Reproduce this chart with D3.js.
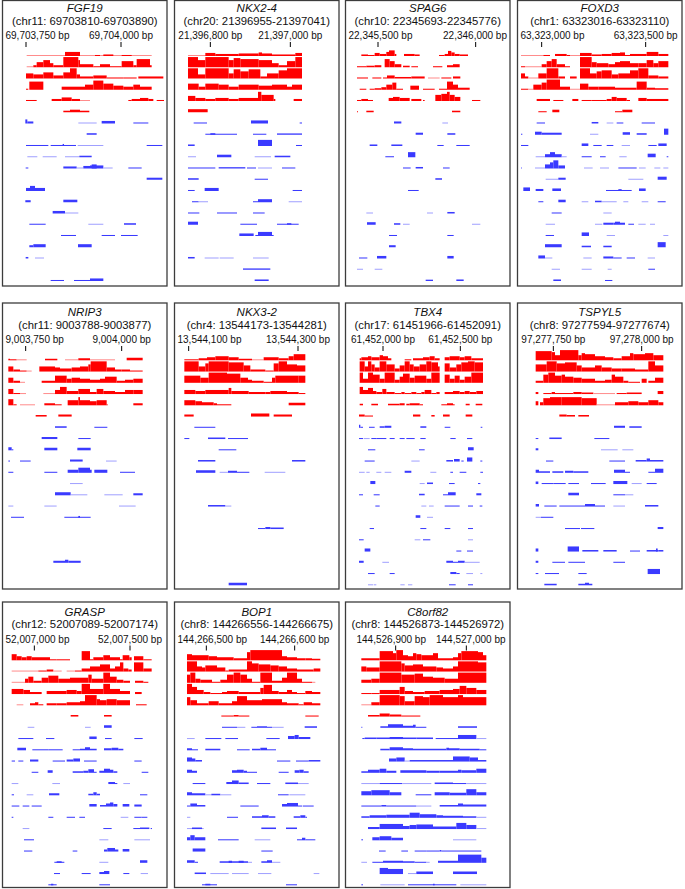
<!DOCTYPE html>
<html>
<head>
<meta charset="utf-8">
<script src="https://cdn.jsdelivr.net/npm/d3@7"></script>
<style>
  body { margin: 0; background: #fff; }
  text { font-family: "Liberation Sans", Arial, sans-serif; fill: #111; }
</style>
</head>
<body>
<div id="chart"></div>
<script>
// panel titles and axis ticks
var genes = ["FGF19", "NKX2-4", "SPAG6", "FOXD3", "NRIP3", "NKX3-2", "TBX4", "TSPYL5", "GRASP", "BOP1", "C8orf82"];
var regions = ["(chr11: 69703810-69703890)", "(chr20: 21396955-21397041)", "(chr10: 22345693-22345776)",
  "(chr1: 63323016-63323110)", "(chr11: 9003788-9003877)", "(chr4: 13544173-13544281)",
  "(chr17: 61451966-61452091)", "(chr8: 97277594-97277674)", "(chr12: 52007089-52007174)",
  "(chr8: 144266556-144266675)", "(chr8: 144526873-144526972)"];
var tickLabels = [["69,703,750 bp", "69,704,000 bp"], ["21,396,800 bp", "21,397,000 bp"], ["22,345,500 bp", "22,346,000 bp"],
  ["63,323,000 bp", "63,323,500 bp"], ["9,003,750 bp", "9,004,000 bp"], ["13,544,100 bp", "13,544,300 bp"],
  ["61,452,000 bp", "61,452,500 bp"], ["97,277,750 bp", "97,278,000 bp"], ["52,007,000 bp", "52,007,500 bp"],
  ["144,266,500 bp", "144,266,600 bp"], ["144,526,900 bp", "144,527,000 bp"]];
// tick positions in track units (0-51 across a panel)
var tickPos = [[7.8, 36.3], [11.5, 35.5], [10.5, 39.8], [8.0, 39.2], [7.7, 36.5], [5.0, 37.8],
  [12.0, 35.2], [11.5, 38.0], [10.3, 39.0], [10.3, 36.8], [15.8, 37.0]];

// tracks: 6 red then 15 blue, each a list of [start, end, signal]
// signal <= 0.5 means a faint 1px coverage line
var fgf19 = [
  [[8,45.5,0.5],[19.5,24,4],[28.5,30,1],[31,34,1.5],[36.5,39.5,1]],
  [[8,10,0.5],[10,11,2],[11,13,5],[13,15,7],[15,16,4],[16,19,2],[19,23.5,10],[23.5,24,7],[24,28,3],[28,30,1],[30,33,3],[33,36.5,1],[36.5,40,6],[40,41,2],[41,45,8],[45,45.5,2]],
  [[7.8,10,5],[10,13,4],[13,16,6],[16,19,3],[19,21,6],[21,23,10],[23,24,4],[24,28,2],[28,32,3],[32,37,1],[37,41,1],[41.5,49,2]],
  [[7.8,8.5,1],[8.8,13,8],[18.5,25.5,3],[25.5,28,5],[28,31,9],[31,34,6],[34,37,4],[37,40,3],[40,42,5],[42,45.5,3]],
  [[7.8,11,1],[15.5,18.5,2],[18.5,21.5,3.5],[21.5,24,2],[24,27,0.5],[38.5,39.5,1],[39.5,42,2],[42,44.5,3],[44.5,46,2],[47,49.2,1]],
  [[19,21,1.5],[21,24,2.5],[24,26.8,1.5]],
  [[7.6,8.2,4],[8.2,10,2],[23.5,29,0.5],[30.5,34.5,2.5],[40,44.5,1]],
  [[26,29,1.5]],
  [[7.8,14.5,1],[15.2,22.8,1],[18.8,19.2,2],[23.3,31,0.5],[44,48.7,1]],
  [[8.2,11.2,0.5],[12.8,17,0.5],[19.5,23.8,0.5],[23.8,27.5,1.5]],
  [[7.7,8.5,1],[19,23,2],[23,25,0.5],[25,27,2.5],[27,31,3],[27.5,29,4],[31,33.8,0.5],[38.5,42.5,1]],
  [[44,48.7,2]],
  [[7.8,9,3],[9,10.5,5],[10.5,13.5,3]],
  [[7.6,9.2,2],[19,23.2,2.5]],
  [[15.8,19.5,2.5],[19.5,23.5,0.5]],
  [[8.8,13.7,1],[26.5,31,0.5],[37.2,40.8,1.5]],
  [[18.3,22.8,1],[30.5,34.5,1],[36.3,41.3,1]],
  [[8.8,10,2],[10,13.7,3],[23.4,27.5,3]],
  [[7.7,8.5,1.5],[10.5,13.2,0.5]],
  [],
  [[15.2,19.2,1],[22.2,27,1],[27,31,2.5]]
];
var nkx24 = [
  [[4.8,39,0.5],[10,13,3],[13,20,2],[20,26,2.5],[26,27,3.5],[27,30,2.5],[30,37,1.5],[37,39,3]],
  [[4.8,7.8,10],[7.8,10,7],[10,17,10],[17,18.5,7],[18.5,20.5,9],[20.5,26,8],[26,30,7],[30,32,4],[32,34.5,2],[34.5,37,6],[37,39,10]],
  [[4.8,7.8,10],[7.8,10,4],[10,17,10],[17,18.5,5],[18.5,20.5,9],[20.5,23,7],[23,26.5,9],[26.5,28.5,2],[28.5,32,5],[32,34.5,8],[34.5,39,10]],
  [[4.8,8,6],[8,10,3],[10,14,6],[14,17,5],[17,20,3],[20,26,5],[26,30,4],[30,34.5,5],[34.5,36,3],[36,39,5]],
  [[4.8,7,5],[7,10,3],[10,13,2],[13,17,3],[17,20,2],[20,25.8,3],[25.8,26.8,9],[26.8,30.5,6],[30.5,31,2],[36.5,39,2]],
  [[4.8,10.7,3]],
  [[6.5,10.5,1],[23.7,28.8,3],[38.3,39,1]],
  [[10,19.5,1],[11.5,13,1.5],[24.3,28.3,1],[31.5,39,1.3]],
  [[4.8,6.8,1.5],[25.8,30,6],[37.2,39,1]],
  [[4.8,7.2,0.5],[13.5,17.8,2.5],[24.8,29.7,0.5],[30.8,35.5,1.5]],
  [[4.8,13,1],[14,22,1.3],[22.5,25.2,1],[25.8,30,0.5],[33,37,1]],
  [[4.8,8,1.5],[24.8,28.8,1]],
  [[4.8,6.8,1],[9.8,14,3],[36.2,39,1]],
  [[6,8,1],[8,10.8,0.5],[24.3,25.8,1],[25.8,30,3],[35,39,0.5]],
  [[4.8,8.2,1],[13.5,19.5,1],[24.3,27.8,1]],
  [[4.8,7.8,3],[20.5,25.5,1],[31.5,38,1],[34.5,35.8,1.5]],
  [[20.2,24.5,2.5],[25,25.8,1],[25.8,30,4],[30,30.5,1]],
  [],
  [[4.8,6.8,1.5],[9.8,14,0.5],[14.3,18.5,0.5],[24.3,29,0.5]],
  [[21.3,29.5,1.3]],
  [[24.8,29,1.5]]
];
var spag6 = [
  [[5.5,7.5,1.5],[7.5,9.5,1],[9.5,11,3],[11,13,2],[13,13.8,4],[13.8,15.5,5.5],[15.5,16,2],[18.3,21.5,2],[21.5,23,1.5],[28.8,30.5,1],[30.5,31.5,2],[31.5,32.5,5],[32.5,33.5,3.5],[33.5,35,2],[35,37.5,1.5]],
  [[4.2,7,1],[7,9.5,1.5],[9.5,11.5,2],[12.5,14,8],[14,15.5,6],[15.5,17.5,3],[18,20,1.5],[20.5,22.5,1],[27,29.8,1],[31.2,33,2],[33,35,3]],
  [[4.2,7.5,1],[8.8,11.5,1],[12,13.2,1],[13.2,15.5,3],[15.5,20.5,1.5],[20.5,24.5,2],[25.5,29,0.5],[29.5,32.5,1],[33,35.2,2]],
  [[5,7,1],[8,9.5,1],[9.5,11.5,1.5],[11.5,13,2.5],[13,14.8,5],[14.8,16,7],[16,18,1],[20.2,22.8,4],[24,27.5,1],[28.8,31.2,1],[31.2,33,8],[33,34.5,5],[34.5,38,2]],
  [[4.2,5.5,1],[5.5,7.5,2],[7.5,9,1],[13.7,15,3],[15,17,4],[17,20,3],[20.5,23.5,2],[24,24.5,1],[27.7,29.5,6],[29.5,31.2,7],[31.2,32,9],[32,33.5,6],[33.5,35.2,4],[38.7,41.2,1]],
  [[4.2,4.5,1],[7,9.2,1.5],[32.7,35.2,1.5]],
  [[15.3,17.5,2],[29.8,31.5,0.5]],
  [[21.8,24,2],[31.3,33.7,1.5]],
  [[8,10.3,1.5],[14.5,17.8,1.5],[28.3,30.2,1],[34,38,1]],
  [[12.7,15.3,1],[19.5,21.7,5]],
  [[18,20.3,1],[21.8,24,1.5],[30,32,1]],
  [[27.7,29.7,1.5]],
  [[19.5,22.7,1]],
  [],
  [[7,9,0.5],[25.2,27,0.5],[31.3,33.5,1.5]],
  [[7.2,9.8,2.5],[15.3,17.2,1.5],[18,20,0.5],[38.7,41.2,0.5]],
  [[13.8,16.2,1],[31.3,33.2,1]],
  [[13.8,15.8,2]],
  [[4.8,7.3,1],[10.2,13,2.5],[31.3,33.2,2.5]],
  [[4.2,6,0.5],[9.5,11.8,0.5]],
  [[24.8,27,1.3],[34,36.2,1.5]]
];
var foxd3 = [
  [[1.8,8.5,0.5],[8.5,10.5,1],[12,15.5,2],[15.5,16.5,1],[16.5,19.5,0.5],[19.5,23,3],[23,26,1.5],[26,29,2],[29,31.5,3],[31.5,33,3.5],[33,34.5,1],[34.5,39.5,2],[39.5,43,4],[43,46,2]],
  [[1.8,3,1],[3,8,0.5],[8,9.5,3],[9.5,11,6],[11,12.5,8],[12.5,15,3],[15,16.5,1],[19.5,23,10],[23,24.5,5],[24.5,28,4],[28,30,3],[30,31.5,5],[31.5,34.5,6],[34.5,37,4],[37,39.5,4],[39.5,41.5,7],[41.5,43,4],[43,46,6]],
  [[1.8,3,5],[3,4,2],[4,7,0.5],[7,9.5,5],[9.5,13,10],[13,15,2],[16.5,18.5,2],[19.5,22.5,10],[22.5,24.5,5],[24.5,26,7],[26,29,8],[29,31,4],[31,34.5,5],[34.5,37,8],[37,40,10],[40,43,3],[43,46,2]],
  [[1.8,4,1],[4,5.5,0.5],[5.5,8,5],[8,9.5,7],[9.5,13.5,10],[13.5,16.5,3],[16.5,19.5,0.5],[19.5,22,6],[22,25,3],[25,30,3],[30,33,2],[33,36.5,2],[36.5,39.5,8],[39.5,42,2],[42,46,1.5]],
  [[6.5,10.5,2],[11.5,14.5,1],[17.2,19,2],[20,23,1],[23,27.5,1],[27.5,29,2],[29,30.5,4],[30.5,33.5,3],[33.5,34.5,1],[37,39.5,3],[39.5,46,2]],
  [[7,9.5,1],[11.2,13.3,2.5],[30,32.2,1],[32.2,35.2,2.5]],
  [[6.5,9,1],[23,25,1.5],[27.5,29.5,0.5],[30.5,32.5,1],[38,42,1]],
  [[1.8,2.2,1],[6,8,3],[8,14,2],[22.5,25,0.5],[32.3,34.5,2.5],[36.5,39.5,1.5],[44.7,46,6]],
  [[1.8,4,1],[20,22,2.5],[23.5,26,1],[27.5,29.5,1],[32,34.5,0.5],[40,42.5,1],[43,45.5,2.5]],
  [[6.2,9,0.5],[9,10.5,3],[10.5,12,5],[12,14,3],[14,15.5,0.5],[20,23,1],[25.5,27.2,1],[31.3,33.5,0.5],[39.8,42.2,3.5],[45.5,46,1]],
  [[1.8,2,1],[6,9,0.5],[9,10.5,4],[10.5,11.5,6],[11.5,13,8],[13,15,3],[20.7,23.3,0.5],[25.5,28.2,0.5],[31,36.5,1],[37.2,39.2,0.5],[41.8,43.6,0.5],[44.5,46,0.5]],
  [[9.2,13,0.5],[13,15.2,2],[34,38.5,0.5],[42.8,45.5,3]],
  [[2.5,4.5,3.5],[6.2,8.5,2],[11.2,13.8,2.5],[27.3,35,1],[31,32,1.8],[37.2,39.2,2.5]],
  [[7,8.5,1],[13,15.2,2.5],[20,22,0.5],[24,26,1.5],[26,30.5,0.5],[32.5,34,0.5],[38,40,0.5],[42.8,45.2,1]],
  [[11,14,1],[26.5,29,0.5]],
  [[9.2,12,0.5],[24,26.2,0.5],[26.5,29.5,2],[29.5,30,2],[30,31.5,3],[31.5,33,2],[34,35.7,1],[37,39.2,0.5],[40.5,42,0.5]],
  [[9.2,11.7,1],[20,22.2,3.5],[27.5,30,0.5],[44.5,46,0.5]],
  [[9,14,3],[20,22.8,1.5],[26.5,29,1.5],[42.8,45.2,5]],
  [[7,9,3],[9,11.2,0.5],[20.5,23,0.5],[26.5,29.5,2],[29.5,32,1],[33.5,36,1],[39.8,42,0.5]],
  [[11,13.5,0.5],[20,23,0.5],[27.8,29,0.5],[40,42,1]],
  [[11.5,13.8,1.5],[27,29.2,1]]
];
var nrip3 = [
  [[2.5,3,1.5],[3,5,1],[5,8,0.5],[13.5,17.2,1.5],[19.5,23.5,0.5],[23.5,27,2],[27,34.5,0.5],[38,42.8,2.5]],
  [[2.5,4,5],[4,6,2],[6,8,1],[8,9.5,0.5],[11.8,16.5,5],[16.5,18,4],[18,21.5,3],[21.5,24,4],[24,26.5,5],[26.5,27.2,7],[27.2,32,10],[32,34.5,4],[34.5,36.5,2],[36.5,39,2],[39,42.8,1]],
  [[2.5,4,5],[4,6,2],[6,7.5,0.5],[12.5,16.5,2],[16.5,20,7],[20,21.5,4],[21.5,24,5],[24,27,4],[27,30,3],[30,31.5,4],[31.5,35,6],[35,37.5,2],[37.5,40,3],[40,42.8,4]],
  [[2.5,4,5],[4,6,1],[6,7.8,0.5],[13,16.5,0.5],[16.5,18,4],[18,20,7],[20,23.5,3],[23.5,27,5],[27,29,2],[29,31,5],[31,34.5,3],[34.5,37.5,2],[37.5,40,4],[40,42.8,4]],
  [[2.5,4,6],[4,5,1],[6,10.5,0.5],[13.3,16.5,2],[16.5,18.5,1],[20.3,23.5,5],[23.5,24,8],[24,27,5],[27,29,4],[29,32,5],[32,32.3,1],[40,42.8,2]],
  [[10.7,14,1.5],[17.5,21.5,2]],
  [[16.5,20,1.5],[28.3,32.2,1]],
  [[12.5,17.2,2],[23.5,27.2,1]],
  [[2.5,3.5,3],[3.5,4,1],[13.3,17.2,2.5],[23.2,27.2,2.5]],
  [[2.5,3,1],[6,9.2,1],[21,24.8,2],[31.8,35,0.5]],
  [[2.5,4,1],[13.3,17.2,1],[20.3,23.5,3],[23.5,27,5],[27,27.5,3],[28.3,32.2,3],[36,40.5,1]],
  [[21,24.8,0.5]],
  [[16.5,21.2,3],[21.2,26.2,0.5],[31.3,36.8,0.5],[40,42.8,2]],
  [[2.5,4,0.5],[13.3,17,0.5],[35.7,40.7,0.5]],
  [[3.3,7.2,1],[19.3,27.2,1],[23.5,24,1.8]],
  [],
  [],
  [],
  [[16,19.5,2],[19.5,20.5,3],[20.5,24.2,2]],
  [],
  []
];
var nkx32 = [
  [[3.7,8,1],[8,10.5,2],[10.5,13,3],[13,17,4],[17,20,3],[20,24,1.5],[24,27.5,0.5],[27.5,32,3],[32,35,2],[35,36.5,4],[36.5,40,6]],
  [[3.7,8,10],[8,10,5],[10,11,8],[11,17,10],[17,21.5,9],[21.5,23.5,6],[23.5,28,2],[28,30.5,1],[30.5,32,8],[32,34.5,10],[34.5,37.5,7],[37.5,40,6]],
  [[3.7,8.5,7],[8.5,11,5],[11,16.5,10],[16.5,20.5,9],[20.5,22.8,5],[22.8,24,3],[24,27.5,2],[27.5,30,1],[30,31,5],[31,38,7],[38,40,7]],
  [[3.7,7,4],[7,10,3],[10,17,4],[17,17.8,6],[17.8,23,3],[23,28,2],[28,29.5,2],[29.5,34.5,3],[34.5,38,2],[38,40,1]],
  [[3.7,7,5],[7,9,4],[9,12.5,3],[12.5,13.5,2],[13.5,17.8,1],[35,40,2.5]],
  [[3.7,6.5,2],[23.7,29.2,3],[30.5,36,2]],
  [[6.7,13,1]],
  [[3.7,5.2,1],[10.8,16,1.5],[16.8,22.8,1]],
  [[14,19.3,1]],
  [[7.8,13,1.5],[36,40,1.5]],
  [[7.2,13,2.5],[14.3,16.8,0.5],[16.8,19.5,2],[19.5,23.2,1],[27.8,34,0.5]],
  [],
  [],
  [[10.8,16,1.5],[16,17.8,0.5]],
  [],
  [[25.8,28,1],[28,29.5,2],[29.5,33.5,1.5]],
  [],
  [],
  [],
  [],
  [[17,22.5,2.5]]
];
var tbx4 = [
  [[5,5.5,2],[5.5,7.5,3],[7.5,8.5,4],[8.5,11,3],[11,12,5],[12,13.5,4],[13.5,14.5,2],[18.5,20.5,1],[21,24,2],[24,26,3],[26,27.5,4],[27.5,29,2],[30.5,32,3],[32,35,4],[35,36.5,3],[36.5,38.5,4],[38.5,42,2]],
  [[5,6.5,10],[6.5,7.5,5],[7.5,8.5,10],[8.5,9.5,7],[9.5,11,4],[11,13,10],[13,15.5,7],[15.5,17,3],[17,18.5,6],[18.5,20,10],[20,21.2,7],[21.2,23,5],[23,25,7],[25,26.5,10],[26.5,28.5,9],[28.5,29,5],[30.5,32,8],[32,34,4],[34,35.5,7],[35.5,37.5,9],[37.5,39.5,10],[39.5,42,9]],
  [[5,6,10],[6,7.5,4],[7.5,9,10],[9,11,8],[11,12.5,4],[12.5,15.5,10],[15.5,17,3],[17,18,6],[18,20,9],[20,21.5,5],[21.5,25,7],[25,26.5,4],[26.5,29,10],[30.5,32,8],[32,33.5,4],[33.5,35,7],[35,36.5,3],[36.5,38.5,6],[38.5,42,10]],
  [[5,6,7],[6,7.5,4],[7.5,9,6],[9,10,3],[10,11.8,2],[11.8,13,5],[13,15.5,2],[15.5,17.5,1],[17.5,18.5,2],[18.5,20.5,1],[20.5,22,2],[22,23.5,1],[23.5,24.5,2],[24.5,26.5,4],[26.5,28,1],[28,29,2],[30.5,33,2],[33,35,3],[35,36.5,2],[36.5,38,3],[38,40,2],[40,42,3]],
  [[5,6,1.5],[8.5,10.5,1.5],[13.5,17,1.5],[17,18.5,2],[19,20,1.5],[20,23,2],[23,24,1],[29.5,31.2,1],[31.2,33,2],[33,33.5,1],[36.8,38,1.5],[39.8,41.8,1.5]],
  [[4.8,6.5,2],[6.5,9,1],[21,23.2,2],[26.5,27.5,1.5],[30,32,2],[36.8,38.8,2]],
  [[4.8,5.2,3],[5.2,6,1],[7.8,9.5,1],[11,12.5,1.5],[12.5,14.5,2],[23.2,25,1.5],[30.5,32.2,1],[41.3,41.8,1]],
  [[4.8,6,1],[6.2,8,0.5],[8.5,10,1],[10,13,1],[14,15.5,1],[17,18.5,1],[19,21.5,1],[23.2,24.8,1],[32.2,33.8,1],[37.2,38.8,1]],
  [[7.5,9.7,1],[22.8,24.5,1],[37.5,39.2,3]],
  [[6.5,9.5,1],[20.5,23,0.5],[31,33,1.5],[33.3,35,2.5],[35.5,36.2,1],[37.2,38.8,4],[41.2,41.8,1]],
  [[4.8,6.5,0.5],[7,8,0.5],[10,11.5,0.5],[12.5,14.5,0.5],[18.5,20.5,2],[26.2,28,0.5],[32.2,33,1],[35,37,1],[41.2,42,1]],
  [[8.2,9.7,3],[23,24.5,0.5],[25.2,27,1.5],[31.8,33.5,1],[40.5,41.2,1]],
  [[4.8,6,1],[9.2,11,1],[22.8,24.5,1.5],[30,31.5,1],[31.5,33.8,3],[40,41.5,2]],
  [[9.7,11,1],[23.5,25,0.5],[25.8,27.2,0.5],[30.5,35,1],[37.5,39,1],[41,41.8,1]],
  [[21.8,23.2,2.5],[25.2,27,0.5]],
  [[8,9.3,1],[23.2,25,1],[30.5,32.2,1],[37.5,39,1]],
  [[4.8,6.2,1],[21.5,23.2,0.5],[24,26.2,1],[37.5,39,0.5]],
  [[6.5,8.2,3],[34,35.5,1],[37.2,39,1]],
  [[4.8,6.2,2],[11.8,13.8,0.5],[31,33,2],[33,34.5,1],[34.5,36.5,2],[36.5,41,0.5]],
  [[7.5,9.5,1],[14,15.5,1],[32.2,34,2],[34,35,1],[37,39,0.5],[41.2,41.8,0.5]],
  [[7.5,9,0.5],[9.2,10,0.5],[17.2,18.5,0.5],[19.5,20.8,0.5],[31.8,33.8,1],[37.5,39,1]]
];
var tspyl5 = [
  [[6.2,11,9],[11,12,8],[12,13.5,5],[13.5,19,10],[19,20,5],[20,21,7],[21,24,6],[24,27,4],[27,29.5,3],[29.5,32,2],[32,34.5,4],[34.5,35.5,7],[35.5,39,6],[39,41.5,7],[41.5,44.5,5]],
  [[6.2,9.5,7],[9.5,12.5,10],[12.5,15,8],[15,18.5,9],[18.5,20,6],[20,24,4],[24,26,6],[26,29,4],[29,32,3],[32,36,3],[36,40,2],[40,42,10],[42,44.5,6]],
  [[6.2,8.5,2],[8.5,10,8],[10,12,10],[12,14,7],[14,15,8],[15,17.5,6],[17.5,20,5],[20,24,4],[24,27,2],[27,29,3],[29,30,8],[30,32.5,6],[32.5,34,2],[34,37.5,1],[38,39.5,4],[40,42,2],[42,44.5,5]],
  [[6.2,7,2],[8.5,11,1],[11,12,2],[12,17.5,1],[17.5,20,2],[20,23.5,1.5],[23.5,30,0.5],[30.5,33.5,1],[33.5,38,1.5],[42.8,44.5,3]],
  [[6.2,7,4],[7.5,8.5,3],[8.5,10.5,7],[10.5,14,8],[14,20,8],[20,24.5,7],[24.5,30,0.5],[30,34,3],[34,37,4],[37,40,3],[40,43,5],[43,44.5,3]],
  [[13.3,15.5,2],[15.5,18,1.5],[19,22.2,1.5]],
  [[29.7,33,2],[34.3,38,1.5]],
  [[6.2,7,1],[10.3,14,1.5],[23.8,28.3,1]],
  [[6.2,7,2],[25.8,30.8,0.5],[32.2,35.5,0.5]],
  [[9.3,11.5,1],[28.3,33,1],[36.2,39.5,1.5],[39.5,40.5,3],[40.5,44.5,1.5]],
  [[6.2,7.2,3],[7.2,10.5,1.5],[11.2,14.5,1.5],[15,17.5,2],[17.5,22,1.5],[29.7,33,3],[33,34.5,1],[40,42,1],[42,44.5,4]],
  [[6.2,7,2.5],[8,11.5,1],[11.5,15.2,1],[16,19.2,1],[22.8,27.2,1],[29.5,33.7,3],[35,38,0.5],[39.5,42.5,1]],
  [[16,19.2,2.5],[29.5,33,1],[33,35.5,0.5]],
  [[6.2,7.2,2.5],[8.8,12.5,1],[13.3,21,1],[21,24,2.5],[24,27,1],[29.5,33,0.5],[39,43,1.5]],
  [[6.2,7.8,0.5],[7.8,11.5,1]],
  [[15,19.5,1],[19.8,23.8,1],[42.8,44.5,2]],
  [],
  [[6.2,7,3],[15.8,19.2,5],[20.2,25,1.5],[26.5,30.5,1.5],[34.5,37.5,1],[39.5,43,1.5],[42.3,42.8,3],[43,44.5,1.5]],
  [[6.2,7,2],[11.2,15,1],[16,21,1],[29.5,33,1]],
  [[6.2,7,1],[9,13.2,1],[19,21.5,1],[39.8,43.5,5]],
  [[8.8,12.5,1.5],[19,21,1.5],[21,22.2,2.5],[22.2,23.2,1.5]]
];
var grasp = [
  [[3.5,5,6],[5,6.5,4],[6.5,8,3],[8,9.5,4],[9.5,15,3],[15,17,1],[17,21,1],[24.5,27,9],[27,28,1],[28,31,3],[31,33,5],[33,36,3],[36,36.8,1],[36.8,38.8,5],[38.8,39.5,3],[40.2,43,4],[43,45.5,1]],
  [[3.5,11.5,0.5],[11.5,14,1],[14,16,2],[16,18.5,0.5],[20,22.5,0.5],[22.5,24.5,1],[24.5,27,3],[27,30,5],[30,33,7],[33,34.5,3],[34.5,36,5],[36,37,9],[37,38.5,3],[38.5,39.5,2],[40.2,43,9],[43,45.5,3]],
  [[3.5,7.5,0.5],[7.5,8.5,4],[8.5,10,6],[10,12.5,2],[12.5,14.5,5],[14.5,17.5,7],[17.5,21,4],[21,24,5],[24,26.5,5],[26.5,27.5,8],[27.5,31,4],[31,33,10],[33,35,6],[35,37,3],[37,39,2],[40.5,43,2],[43,44.5,1]],
  [[3.5,7,5],[7,9,4],[9,12.5,2],[14,20,3],[20,23,4],[23,24.5,3],[24.5,27,10],[27,31,5],[31,33,10],[33,36,5],[36,39,3],[40.5,42.5,2]],
  [[5,7,0.5],[9,10.5,2],[10.5,11.5,3],[11.5,13,1],[14,17,2],[17,20,2],[20,24,3],[24,25.5,4],[25.5,29,10],[29,30,6],[30,32,5],[32,35,6],[35,39,5],[40.8,44,1]],
  [[21.2,23.5,1.5],[31.2,33.5,1.5]],
  [[8.3,10.3,0.5],[25.5,27.2,0.5],[31.2,33.5,2.5]],
  [[5.5,10,1],[13.8,16.3,1],[26.8,29,2.5],[31.5,33.5,1],[40.3,42.8,1]],
  [[5.2,7.8,2.5],[9.7,14.5,1],[14.5,18.8,1],[21.8,24,1],[24,25.5,1.5],[25.5,27,3],[27,29,1.5],[31.2,33.5,2],[33.5,35.5,2.5],[35.5,37,1.5]],
  [[3.5,4.5,1],[5.5,7,1],[9,11.5,2],[15.8,19.5,1],[20,22,2],[22,24,3],[25.2,29,1],[40.3,42.5,1]],
  [[9.5,11.5,1],[14.3,15.8,2.5],[21.8,25,1.5],[25,26.5,2],[26.5,28.2,3.5],[28.2,29,1],[29.8,31.2,2],[31.2,33,4],[33,34,3],[34,35.2,1.5],[42.5,44.5,1]],
  [[3.5,5.5,0.5],[15.7,18,0.5],[32.5,34.5,2],[34.5,35.2,1],[37,39,0.5]],
  [[3.5,4.2,1],[8,10,0.5],[14.7,17.8,2],[26.5,28,1.5],[28,29,3],[29,30,1.5],[42,44.2,1]],
  [[3.5,5.8,1],[6.8,8.8,1],[9.5,12.5,1],[26.8,29,2.5],[30,31.8,1.5],[31.8,33,3],[33,34,4],[34,35.2,2.5],[36.8,38.8,2.5],[40.3,42.5,2]],
  [[3.5,4,1],[14.5,16,1],[20,22.5,1],[23.8,25.5,1],[36.2,38.5,0.5],[40.3,42.5,1],[42.5,44.2,1]],
  [[6.8,8.8,0.5],[31,33,1],[33,33.5,1],[40,42,1],[42,44.8,1.5],[45.2,45.6,1]],
  [[7.2,10.2,1],[29.8,32.5,0.5],[40.3,45,0.5]],
  [[7.2,9.7,1],[21.8,23.2,1],[31.2,32.2,2],[32.2,34.5,3.5],[34.5,35.5,2],[36.8,38.8,2.5]],
  [[16.3,19.3,1],[17,18.5,1.5],[29.8,32.5,0.5],[42,44.2,2.5]],
  [[16.2,18,1],[24.5,27.2,1],[29.8,31.2,2],[31.2,32.8,3],[37,38.8,1],[42.2,44.4,0.5]],
  [[14.5,17,1],[15.3,16,1.5],[29.8,33,1]]
];
var bop1 = [
  [[4.5,6,6],[6,7.5,5],[7.5,11,5],[11,13.5,4],[13.5,18.5,3],[18.5,22.5,2],[22.5,23.5,8],[23.5,33,10],[33,34.5,4],[34.5,37.5,3],[37.5,40,2],[40,42,2],[42,44.5,1.5]],
  [[4.5,7.5,10],[7.5,9,5],[9,10,4],[10,13.5,6],[13.5,16,4],[16,17,1],[17,22.5,2],[22.5,24,10],[24,26,8],[26,29.5,7],[29.5,32,6],[32,34.5,5],[34.5,37.5,3],[37.5,42.5,2],[42.5,44.5,3]],
  [[4.5,5.5,8],[5.5,7,10],[7,8.5,4],[8.5,12,3],[12,14.5,1],[14.5,16.5,3],[16.5,18.5,8],[18.5,20.5,10],[20.5,22.5,8],[22.5,24,4],[24,26.5,1],[26.5,30,10],[30,33,2],[33,34.5,5],[34.5,37.5,10],[37.5,39,4],[39,42,1],[42,43,0.5]],
  [[4.5,6,10],[6,7.5,7],[7.5,9.5,4],[9.5,11.5,2],[11.5,15,1],[15,16.5,2],[16.5,20,3],[20,22.5,2],[22.5,26.5,2],[26.5,27.5,6],[27.5,30,9],[30,32,3],[32,34.5,2],[34.5,36,4],[36,37.5,2],[37.5,40,1],[40,42,3],[42,44.5,2]],
  [[4.5,5.5,8],[5.5,7.5,5],[7.5,11,2],[11,14,4],[14,15,2],[15,18,2],[18,19.5,4],[19.5,22.5,9],[22.5,27,5],[27,33,6],[33,34.5,3],[34.5,38,2],[38,39.5,1],[39.5,42,3],[42,44.5,2]],
  [[14.8,18.5,1],[18.5,20,1.5],[20,23.2,1],[40,44,1]],
  [[15,19.5,1],[19.5,22,0.5],[23.8,25.5,1],[25.5,28.5,1.5],[28.5,30,1],[30,33.5,0.5],[39.8,43.5,1.5]],
  [[4.5,6.8,0.5],[10,14.8,1],[16,19.8,1],[28.3,32.3,1],[34.8,36.8,3],[36.8,38,4],[38,41.5,2]],
  [[4.5,6,2],[6,7.8,1],[10,14.5,1.5],[19.5,23.3,1],[24,26.5,1.5],[26.5,28.5,2.5],[28.5,31.2,1]],
  [[4.5,6,4],[6,7,3],[7,9,1.5],[31.5,35.5,1],[37.2,41,1],[41,44.5,1.5]],
  [[4.5,6,3],[6,7.5,2],[18,19.5,2.5],[19.5,21.5,3],[21.5,22.5,2],[22.5,25.5,1],[32,35,1],[36.8,38.2,2.5],[38.2,39.5,3],[39.5,41,1.5]],
  [[6.2,10,1],[16.3,18,2],[18,20,3.5],[20,23,1.5],[25.5,29.5,1],[34,37.8,1.5],[37.8,41,0.5]],
  [[4.5,6,3],[6,10,2],[10,11.8,0.5],[11.8,14.5,1.5],[14.5,17.8,0.5],[31.8,35,1],[35.2,40,0.5]],
  [[4.5,5.5,1],[5.5,7.5,3],[7.5,10,1.5],[20.5,26,1],[33,34.5,2.5],[34.5,37.8,3.5],[37.8,39,1],[39.2,42.5,1]],
  [[4.5,5.5,0.5],[16.5,19.8,1],[24,27,1.5],[27,29,2.5],[29,31,1.5],[36.5,38.5,1.5],[38.5,40,2.5],[40,40.5,1]],
  [[4.5,9.5,0.5],[6,9,1.5],[26.8,31.2,1.5],[34.2,37.5,1.5]],
  [[4.5,5.5,3],[5.5,6.8,5],[6.8,10,3],[13.8,20,1],[24.8,29.5,0.5],[37.5,39,1],[39,40,2.5],[40,43,1]],
  [[6.2,10,3],[26.8,30.2,1]],
  [[4.5,6.8,2.5],[6.8,7.8,1],[14.3,22.8,1.5],[17,18,2],[20,21.5,2],[22.8,24,0.5],[26.8,28.5,1.5],[28.5,30,2.5],[30,32.5,0.5]],
  [[6.8,10.2,1.5],[11.5,17,0.5],[18,23,0.5],[25.8,29.8,0.5],[42.5,44.2,0.5]],
  [[9,13.5,1],[10,11.5,1.5],[34.2,37.5,1]]
];
var c8orf82 = [
  [[5.5,11,2],[11,15,9],[15,16,7],[16,18,10],[18,19.5,5],[19.5,21,4],[21,22,7],[22,23.5,6],[23.5,27,5],[27,28.5,7],[28.5,33,2],[33,34.5,3],[34.5,35.5,7],[35.5,40.5,9],[40.5,42,8],[42,43,5]],
  [[5.5,7,5],[7,11,4],[11,17.5,10],[17.5,18.5,8],[18.5,21,6],[21,24,7],[24,28,5],[28,30,4],[30,33,3],[33,34.5,5],[34.5,40.5,10],[40.5,43,9]],
  [[5.5,8.5,3],[8.5,11,4],[11,17.5,10],[17.5,21.5,8],[21.5,24,9],[24,27,6],[27,30.5,5],[30.5,34.5,4],[34.5,43,10]],
  [[5.5,8.5,1],[8.5,11,1],[11,17,4],[17,18.5,7],[18.5,21,3],[21,24.5,2],[24.5,29,3],[29,33,4],[33,35,5],[35,37,8],[37,40,6],[40,43,4]],
  [[5.5,8.5,0.5],[8.5,11,3],[11,17,10],[17,18.5,9],[18.5,21.5,4],[21.5,24,9],[24,26,8],[26,30,10],[30,34.5,8],[34.5,36,10],[36,43,8]],
  [[7.5,11,1.5],[11,14,3],[14,17.5,2],[17.5,23.2,1]],
  [[5.5,5.8,1],[11.2,13.5,1.5],[13.5,18,3.5],[18,21,2],[21,21.8,3],[21.8,25,1],[34.5,40.2,1.5]],
  [[5.8,6.5,1],[6.5,10,1.5],[10,22,1.5],[14,18,2],[22,27,1.5],[27.8,34.5,1],[34.5,40,4],[40,43,0.5]],
  [[11.2,14,1.5],[14,18,3],[18,21,2],[21,31,1.5],[31,31.8,2.5],[31.8,35,2],[35,41,1.5],[41,43,1]],
  [[13.8,16,3],[16,18.5,4],[18.5,20,0.5],[20,33,1.5],[33,38,5],[38,40.5,4],[40.5,43,1.5]],
  [[5.5,7.5,1.5],[7.5,11,3],[11,13,4],[13,16,2],[17.2,25,2.5],[25,29,2],[29,34.5,2],[34.5,35.5,3],[35.5,40,2.5],[40,43,4]],
  [[5.5,11,0.5],[11,17.8,1],[17.8,21,0.5],[21,26.5,0.5],[27.5,33,1.5],[33,37,1],[37,43,0.5]],
  [[5.5,8.5,4],[8.5,14,5],[14,17.5,3],[21.8,26.5,1],[27.5,32,3],[32,37,2.5],[37,40,6],[40,43,3]],
  [[5.5,11.5,1],[11.5,13,1.5],[13,22,1],[22,26.5,0.5],[29,34.5,1.5],[34.5,36,3],[36,43,2]],
  [[5.5,8,1.5],[8,13,2.5],[13,20,3],[20,23,5],[23,28,3.5],[28,30,2.5],[30,36,2],[36,40,1.5],[40,43,0.5]],
  [[7.5,11,2],[11,18,5],[18,20,3],[20,22,4],[22,27,4.5],[27,34,2.5],[34,37,6],[37,40,4],[40,43,0.5]],
  [[5.5,6,1],[8.8,11,3],[11,14.5,4],[14.5,18,2.5],[33,40,0.5]],
  [[10.8,12.8,1],[17.5,19.5,1],[21.5,25,1],[25,29,1],[29,29.5,1.5],[29.5,34.5,1],[34.5,41.5,1]],
  [[5.5,7.2,0.5],[8.8,12,1],[12,18,2],[18,21.5,1.5],[21.5,25,1],[25,26,0.5],[28.5,34.5,2],[34.5,41.5,8],[41.5,43,5]],
  [[11,13.5,6],[13.5,18,5],[19.5,22,0.5],[22,27,2.5],[33,40.2,2.5]],
  [[5.5,6,1],[11.2,18.5,0.5],[19.5,34,1],[27,27.5,1.5],[35.2,43,0.5]]
];
var panelTracks = [fgf19, nkx24, spag6, foxd3, nrip3, nkx32, tbx4, tspyl5, grasp, bop1, c8orf82];
var nRed = 6;

// layout
var W = 685, H = 889;
var frameX = [0, 172, 343, 515];
var boxTop = [0.5, 303, 602];
var boxBottom = [286, 589, 887.5];
var headY = [0, 304, 603.5];
var trackY0 = [56, 360.3, 660.3];
var trackStep = 11.25;
var boxW = 164.5;

var colors = { red: "#ff0000", redLight: "#ff8c8c", blue: "#3a3aff", blueLight: "#a0a0ff" };

var svg = d3.select("#chart").append("svg")
    .attr("width", W)
    .attr("height", H);
svg.append("rect").attr("width", W).attr("height", H).attr("fill", "#fff");

var hScale = d3.scaleLinear().domain([0, 10]).range([0, 10.2]);

genes.forEach(function(gene, i) {
    var col = i % 4, row = Math.floor(i / 4);
    var fx = frameX[col];
    var xScale = d3.scaleLinear().domain([0, 51]).range([fx, fx + 170]);
    var bx = fx + 2.5;
    var g = svg.append("g");

    g.append("rect")
        .attr("x", bx).attr("y", boxTop[row])
        .attr("width", boxW).attr("height", boxBottom[row] - boxTop[row])
        .attr("fill", "none").attr("stroke", "#3c3c3c").attr("stroke-width", 1.3);

    var cx = bx + boxW / 2, hy = headY[row];
    g.append("text")
        .attr("x", cx).attr("y", hy + 12)
        .attr("text-anchor", "middle").attr("font-size", 11.5)
        .attr("font-style", "italic")
        .text(gene);
    g.append("text")
        .attr("x", cx).attr("y", hy + 24.8)
        .attr("text-anchor", "middle").attr("font-size", 11.3)
        .text(regions[i]);

    // tick marks and labels; labels stay inside the box and apart from each other
    var labs = [];
    tickPos[i].forEach(function(t, k) {
        var tx = xScale(t);
        g.append("line")
            .attr("x1", tx).attr("x2", tx)
            .attr("y1", hy + 42).attr("y2", hy + 47)
            .attr("stroke", "#000").attr("stroke-width", 1);
        var lab = g.append("text")
            .attr("y", hy + 39)
            .attr("text-anchor", "middle").attr("font-size", 10)
            .text(tickLabels[i][k]);
        labs.push({ node: lab, x: tx, w: lab.node().getComputedTextLength() });
    });
    var gap = (labs[1].x - labs[1].w / 2) - (labs[0].x + labs[0].w / 2);
    if (gap < 10) {
        labs[0].x -= (10 - gap) / 2;
        labs[1].x += (10 - gap) / 2;
    }
    labs.forEach(function(l) {
        var lx = Math.max(bx + 3 + l.w / 2, Math.min(bx + boxW - 3 - l.w / 2, l.x));
        l.node.attr("x", lx);
    });

    panelTracks[i].forEach(function(segs, ti) {
        var base = trackY0[row] + ti * trackStep;
        var isRed = ti < nRed;
        g.selectAll(null)
            .data(segs)
            .enter()
            .append("rect")
            .attr("x", function(d) { return xScale(d[0]); })
            .attr("width", function(d) { return Math.max(0.8, xScale(d[1]) - xScale(d[0])); })
            .attr("y", function(d) { return base - Math.max(1, hScale(d[2])); })
            .attr("height", function(d) { return Math.max(1, hScale(d[2])); })
            .attr("fill", function(d) {
                if (d[2] <= 0.5) return isRed ? colors.redLight : colors.blueLight;
                return isRed ? colors.red : colors.blue;
            });
    });
});
</script>
</body>
</html>
